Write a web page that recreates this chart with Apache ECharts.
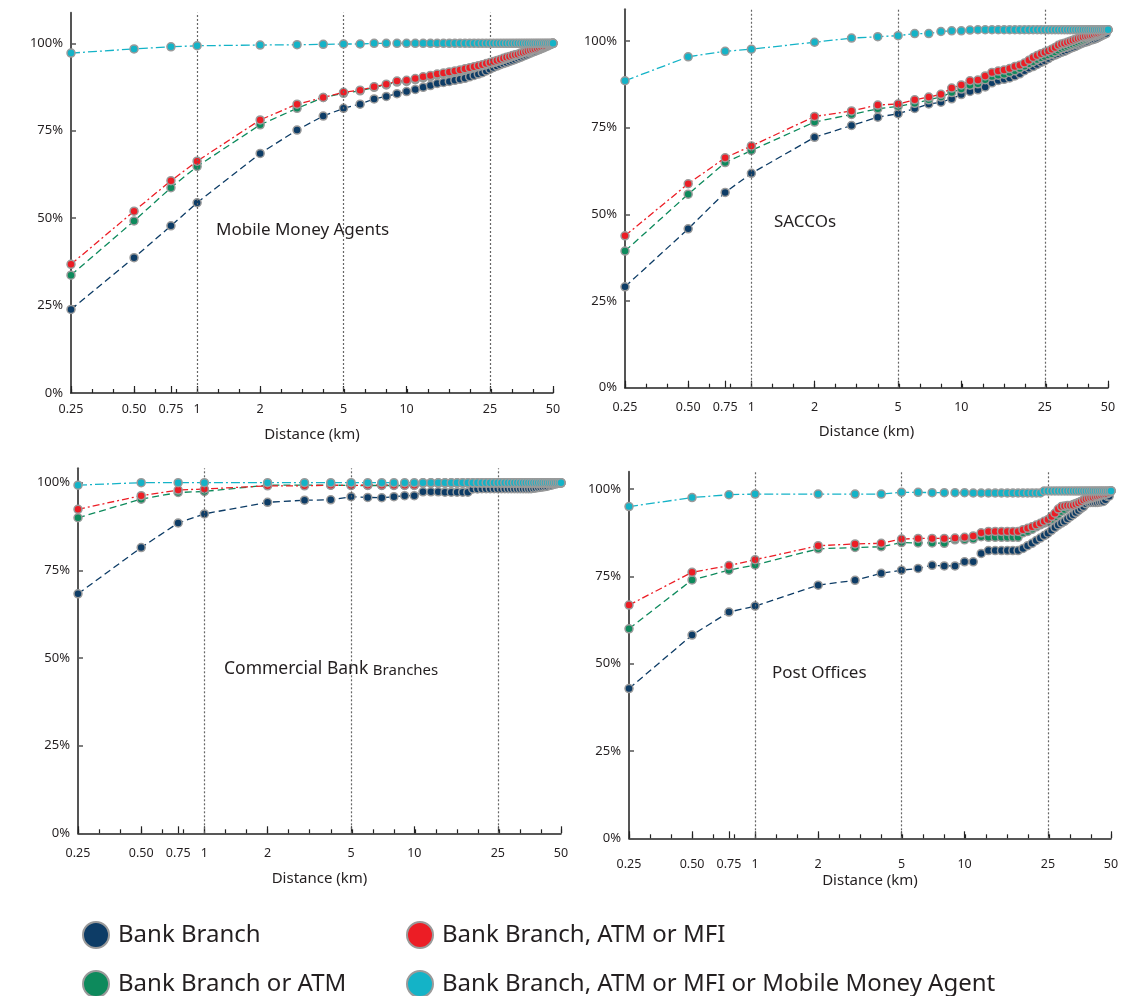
<!DOCTYPE html>
<html>
<head>
<meta charset="utf-8">
<script src="https://cdn.jsdelivr.net/npm/echarts@6/dist/echarts.min.js"></script>
<style>html,body{margin:0;padding:0;background:#fff}#c{width:1142px;height:996px}</style>
</head>
<body>
<div id="c"></div>
<script>
// ---------- data ----------
const distances = [0.25,0.5,0.75,1,2,3,4,5,6,7,8,9,10,11,12,13,14,15,16,17,18,19,20,21,22,23,24,25,26,27,28,29,30,31,32,33,34,35,36,37,38,39,40,41,42,43,44,45,46,47,48,49,50];

const seriesNames = ['Bank Branch','Bank Branch or ATM','Bank Branch, ATM or MFI','Bank Branch, ATM or MFI or Mobile Money Agent'];
const panelTitles = ['Mobile Money Agents','SACCOs','Commercial Bank Branches','Post Offices'];

const xTickValues = [0.25,0.5,0.75,1,2,5,10,25,50];
const xTickLabels = ['0.25','0.50','0.75','1','2','5','10','25','50'];
const xMinorTicks = [0.25,0.315,0.397,0.5,0.63,0.794,1,1.26,1.587,2,2.52,3.175,4,5.04,6.35,8,10.08,12.7,16,20.16,25.4,32,40.3,50];
const yTickValues = [0,25,50,75,100];
const refLines = [1,5,25];

// Mobile Money Agents
const mmaBank = [23.9,38.7,47.8,54.4,68.5,75.2,79.2,81.4,82.6,84.1,84.8,85.6,86.2,
 86.8,87.4,87.9,88.5,88.8,89.1,89.4,89.7,90.0,90.4,
 90.8,91.2,91.6,92.1,92.6,93.1,93.5,93.9,94.2,94.5,
 94.8,95.1,95.4,95.7,96.0,96.3,96.6,96.9,97.2,97.5,
 97.7,98.0,98.2,98.5,98.7,99.0,99.2,99.5,99.7,100];
const mmaAtm = [33.7,49.2,58.7,64.8,76.7,81.4,84.5,85.7,86.4,87.4,88.1,88.9,89.1,
 89.6,90.1,90.5,90.9,91.2,91.5,91.8,92.1,92.4,92.7,
 93.0,93.3,93.6,93.9,94.2,94.5,94.8,95.1,95.4,95.7,
 96.0,96.3,96.5,96.8,97.0,97.3,97.5,97.7,97.9,98.1,
 98.3,98.5,98.7,98.9,99.1,99.3,99.5,99.6,99.8,100];
const mmaMfi = [36.8,52.0,60.7,66.3,78.1,82.6,84.5,86.0,86.6,87.6,88.3,89.2,89.4,
 89.9,90.4,90.8,91.2,91.5,91.8,92.1,92.4,92.7,93.0,
 93.3,93.6,93.9,94.2,94.5,94.8,95.1,95.4,95.7,96.0,
 96.2,96.5,96.7,96.9,97.2,97.4,97.6,97.8,98.0,98.2,
 98.4,98.6,98.8,99.0,99.2,99.4,99.6,99.7,99.9,100];
const mmaAgent = [97.2,98.4,99.0,99.3,99.5,99.6,99.7,99.8,99.8,100,100,100,100,
 100,100,100,100,100,100,100,100,100,100,
 100,100,100,100,100,100,100,100,100,100,
 100,100,100,100,100,100,100,100,100,100,
 100,100,100,100,100,100,100,100,100,100];

// SACCOs
const saccoBank = [29.1,45.8,56.3,61.8,72.2,75.6,78.0,79.0,80.5,81.8,82.3,83.3,84.5,
 85.4,85.9,86.7,87.9,88.6,88.9,89.3,89.9,90.5,91.4,
 92.1,92.6,93.2,93.8,94.3,94.9,95.5,95.9,96.3,96.7,
 97.0,97.4,97.8,98.1,98.4,98.8,99.1,99.4,99.6,99.8,
 100.1,100.3,100.5,100.7,101.0,101.3,101.6,101.9,102.1,103.2];
const saccoAtm = [39.4,55.8,64.9,68.4,76.6,78.8,80.4,81.1,82.0,83.0,83.8,85.1,86.1,
 87.2,87.6,88.8,89.7,90.1,90.4,90.9,91.4,92.0,92.7,
 93.4,94.0,94.6,95.1,95.5,95.9,96.3,96.8,97.3,97.8,
 98.1,98.4,98.7,99.0,99.3,99.6,99.9,100.2,100.5,100.8,
 101.1,101.3,101.5,101.7,101.9,102.2,102.4,102.7,102.9,103.2];
const saccoMfi = [43.8,58.8,66.3,69.7,78.2,79.8,81.5,81.8,83.0,83.8,84.6,86.4,87.3,
 88.5,88.7,89.9,90.9,91.3,91.6,92.0,92.6,93.0,93.6,
 94.4,95.2,95.8,96.3,96.7,97.1,97.6,98.1,98.7,99.1,
 99.3,99.6,99.9,100.2,100.5,100.7,100.9,101.1,101.3,101.4,
 101.6,101.7,101.9,102.1,102.2,102.4,102.6,102.8,103.0,103.2];
const saccoAgent = [88.5,95.4,97.0,97.6,99.6,100.8,101.2,101.5,102.1,102.1,102.7,102.9,102.9,
 103.1,103.2,103.2,103.2,103.2,103.2,103.2,103.2,103.2,103.2,
 103.2,103.2,103.2,103.2,103.2,103.2,103.2,103.2,103.2,103.2,
 103.2,103.2,103.2,103.2,103.2,103.2,103.2,103.2,103.2,103.2,
 103.2,103.2,103.2,103.2,103.2,103.2,103.2,103.2,103.2,103.2];

// Commercial Bank Branches
const cbBank = [68.3,81.5,88.5,91.1,94.4,95.0,95.1,96.0,95.8,95.7,96.0,96.3,96.3,
 97.4,97.4,97.4,97.3,97.3,97.3,97.3,97.3,98.2,98.2,
 98.3,98.3,98.3,98.3,98.3,98.3,98.3,98.3,98.3,98.3,
 98.3,98.3,98.3,98.3,98.3,98.3,98.4,98.5,98.6,98.7,
 98.8,98.9,99.0,99.2,99.3,99.5,99.6,99.8,99.9,100];
const cbAtm = [90.0,95.3,97.2,97.5,99.3,99.3,99.3,99.2,99.2,99.2,99.2,99.2,99.2,
 99.9,99.9,99.9,99.9,99.9,99.9,99.9,99.9,99.9,99.9,
 99.9,99.9,99.9,99.9,99.9,99.9,99.9,99.9,99.9,99.9,
 99.9,99.9,99.9,99.9,99.9,99.9,99.9,99.9,99.9,99.9,
 99.9,99.9,99.9,99.9,99.9,99.9,99.9,99.9,99.9,99.9];
const cbMfi = [92.4,96.3,97.9,98.2,99.1,99.1,99.3,99.2,99.3,99.3,99.3,99.3,99.3,
 99.9,99.9,99.9,99.9,99.9,99.9,99.9,99.9,99.9,99.9,
 99.9,99.9,99.9,99.9,99.9,99.9,99.9,99.9,99.9,99.9,
 99.9,99.9,99.9,99.9,99.9,99.9,99.9,99.9,99.9,99.9,
 99.9,99.9,99.9,99.9,99.9,99.9,99.9,99.9,99.9,99.9];
const cbAgent = [99.3,100,100,100,100,100,100,100,100,100,100,100,100,
 100,100,100,100,100,100,100,100,100,100,
 100,100,100,100,100,100,100,100,100,100,
 100,100,100,100,100,100,100,100,100,100,
 100,100,100,100,100,100,100,100,100,100];

// Post Offices
const poBank = [42.9,58.2,64.8,66.5,72.5,73.9,75.9,76.8,77.3,78.2,78.0,78.0,79.2,
 79.2,81.6,82.4,82.4,82.4,82.4,82.4,82.4,83.0,83.8,
 84.5,85.3,86.0,86.7,87.4,88.2,89.0,89.7,90.3,90.8,
 91.5,92.1,92.7,93.3,93.9,94.5,95.0,95.8,96.2,96.2,
 96.2,96.2,96.2,96.3,96.4,96.5,97.0,97.9,98.0,99.5];
const poAtm = [60.0,74.0,76.8,78.3,82.9,83.3,83.5,84.7,84.6,84.6,84.5,85.5,85.5,
 85.7,86.4,86.2,86.2,86.2,86.2,86.2,86.2,87.5,87.9,
 88.5,89.2,89.8,90.3,90.7,91.3,92.0,92.8,93.6,94.2,
 94.8,95.2,95.6,95.9,96.2,96.5,96.8,97.0,97.2,97.4,
 97.6,97.8,98.0,98.2,98.4,98.6,98.8,99.0,99.2,99.5];
const poMfi = [66.8,76.2,78.1,79.8,83.8,84.3,84.5,85.7,85.9,85.9,85.9,86.0,86.2,
 86.6,87.5,87.9,87.9,87.9,87.9,87.9,87.9,88.4,88.8,
 89.2,89.7,90.2,90.8,91.3,92.2,93.1,94.3,95.0,95.2,
 95.3,95.3,95.4,95.7,96.0,96.5,96.9,97.2,97.4,97.6,
 97.7,97.9,98.0,98.1,98.3,98.5,98.6,98.7,99.0,99.5];
const poAgent = [95.0,97.6,98.4,98.6,98.6,98.6,98.6,99.1,99.1,99.0,99.0,99.0,99.0,
 98.9,98.9,98.9,98.9,98.9,98.9,98.9,98.9,98.9,98.9,
 98.9,98.9,98.9,99.5,99.5,99.5,99.5,99.5,99.5,99.5,
 99.5,99.5,99.5,99.5,99.5,99.5,99.5,99.5,99.5,99.5,
 99.5,99.5,99.5,99.5,99.5,99.5,99.5,99.5,99.5,99.5];

// ---------- layout & style ----------
const FONT = '"Noto Sans", "Open Sans", sans-serif';
const TXT = '#231f20';
const colors = ['#0d3c66','#0d8a5c','#ec1d25','#14b3c7'];
const dashes = [[7,4],[7,4],[7,3,2,3],[9,3,2,3]];

const panels = [
  {data:[mmaBank,mmaAtm,mmaMfi,mmaAgent], grid:{left:71,top:12.7,width:482,height:380.3}, yMax:108.75, labelMargin:10, nameGap:34,
   title:{x:216,y:230}},
  {data:[saccoBank,saccoAtm,saccoMfi,saccoAgent], grid:{left:625,top:9.3,width:483,height:378.4}, yMax:109.1, labelMargin:13, nameGap:37,
   title:{x:774,y:222}},
  {data:[cbBank,cbAtm,cbMfi,cbAgent], grid:{left:78,top:468.3,width:483,height:365}, yMax:104.1, labelMargin:14, nameGap:38,
   title:{x:224,y:669}},
  {data:[poBank,poAtm,poMfi,poAgent], grid:{left:629,top:471.7,width:482,height:366.6}, yMax:105.0, labelMargin:20, nameGap:35,
   title:{x:772,y:673}}
];

function labelFor(v){
  for (let i=0;i<xTickValues.length;i++){
    if (Math.abs(v - xTickValues[i]) < 1e-6 * Math.max(1, xTickValues[i])) return xTickLabels[i];
  }
  return '';
}

const grid = [], xAxis = [], yAxis = [], series = [], graphic = [];
panels.forEach((p, i) => {
  grid.push(Object.assign({containLabel:false}, p.grid));
  xAxis.push({
    gridIndex:i, type:'log', min:0.25, max:50, position:'bottom',
    axisLine:{show:true, onZero:false, lineStyle:{color:'#222', width:1.5}},
    axisTick:{show:true, inside:true, length:7, customValues:xTickValues, lineStyle:{color:'#222', width:1.2}},
    axisLabel:{show:true, customValues:xTickValues, formatter:labelFor, fontSize:12.5, color:TXT, fontFamily:FONT, margin:p.labelMargin},
    splitLine:{show:false}, minorTick:{show:false},
    name:'Distance (km)', nameLocation:'middle', nameGap:p.nameGap,
    nameTextStyle:{fontSize:15, color:TXT, fontFamily:FONT}
  });
  xAxis.push({
    gridIndex:i, type:'log', min:0.25, max:50, position:'bottom',
    axisLine:{show:false}, axisLabel:{show:false}, splitLine:{show:false},
    axisTick:{show:true, inside:true, length:4, customValues:xMinorTicks, lineStyle:{color:'#222', width:1.2}}
  });
  yAxis.push({
    gridIndex:i, type:'value', min:0, max:p.yMax,
    axisLine:{show:true, onZero:false, lineStyle:{color:'#555', width:2}},
    axisTick:{show:true, inside:true, length:5, customValues:yTickValues, lineStyle:{color:'#555', width:1.5}},
    axisLabel:{show:true, customValues:yTickValues, formatter:v => v + '%', fontSize:13, color:TXT, fontFamily:FONT, margin:8},
    splitLine:{show:false}
  });
  p.data.forEach((vals, s) => {
    const ser = {
      name: seriesNames[s], type:'line', xAxisIndex:2*i, yAxisIndex:i,
      data: distances.map((d, k) => [d, vals[k]]),
      symbol:'circle', symbolSize:8, showSymbol:true, clip:false, z:2+s,
      itemStyle:{color:colors[s], borderColor:'#9a9a9a', borderWidth:1.5},
      lineStyle:{color:colors[s], width:1.3, type:dashes[s]},
      emphasis:{disabled:true}, animation:false
    };
    if (s === 0) {
      ser.markLine = {
        silent:true, symbol:['none','none'], label:{show:false}, animation:false,
        lineStyle:{color:'#666', width:1.2, type:[2,2]},
        data: refLines.map(v => ({xAxis:v}))
      };
    }
    series.push(ser);
  });
});

graphic.push({type:'text', x:panels[0].title.x, y:panels[0].title.y, style:{text:panelTitles[0], font:'17px ' + FONT, fill:TXT, verticalAlign:'middle'}});
graphic.push({type:'text', x:panels[1].title.x, y:panels[1].title.y, style:{text:panelTitles[1], font:'17px ' + FONT, fill:TXT, verticalAlign:'middle'}});
graphic.push({type:'text', x:panels[2].title.x, y:panels[2].title.y, style:{
  text:'{a|Commercial Bank }{b|Branches}', verticalAlign:'middle',
  rich:{a:{fontSize:17.5, fontFamily:FONT, fill:TXT, verticalAlign:'bottom'}, b:{fontSize:15, fontFamily:FONT, fill:TXT, verticalAlign:'bottom'}}
}});
graphic.push({type:'text', x:panels[3].title.x, y:panels[3].title.y, style:{text:panelTitles[3], font:'17px ' + FONT, fill:TXT, verticalAlign:'middle'}});

const legendPos = [[82,921],[82,970],[406,921],[406,970]];
const legend = seriesNames.map((n, s) => ({
  data:[{name:n, itemStyle:{color:colors[s], borderColor:'#9a9a9a', borderWidth:2}}],
  left:legendPos[s][0], top:legendPos[s][1], padding:0, icon:'circle', itemWidth:26, itemHeight:26,
  selectedMode:false,
  textStyle:{fontSize:24, color:TXT, fontFamily:FONT, padding:[0,0,0,4]}
}));

const chart = echarts.init(document.getElementById('c'), null, {renderer:'canvas'});
chart.setOption({
  animation:false, backgroundColor:'#fff',
  grid, xAxis, yAxis, series, legend, graphic
});
</script>
</body>
</html>
